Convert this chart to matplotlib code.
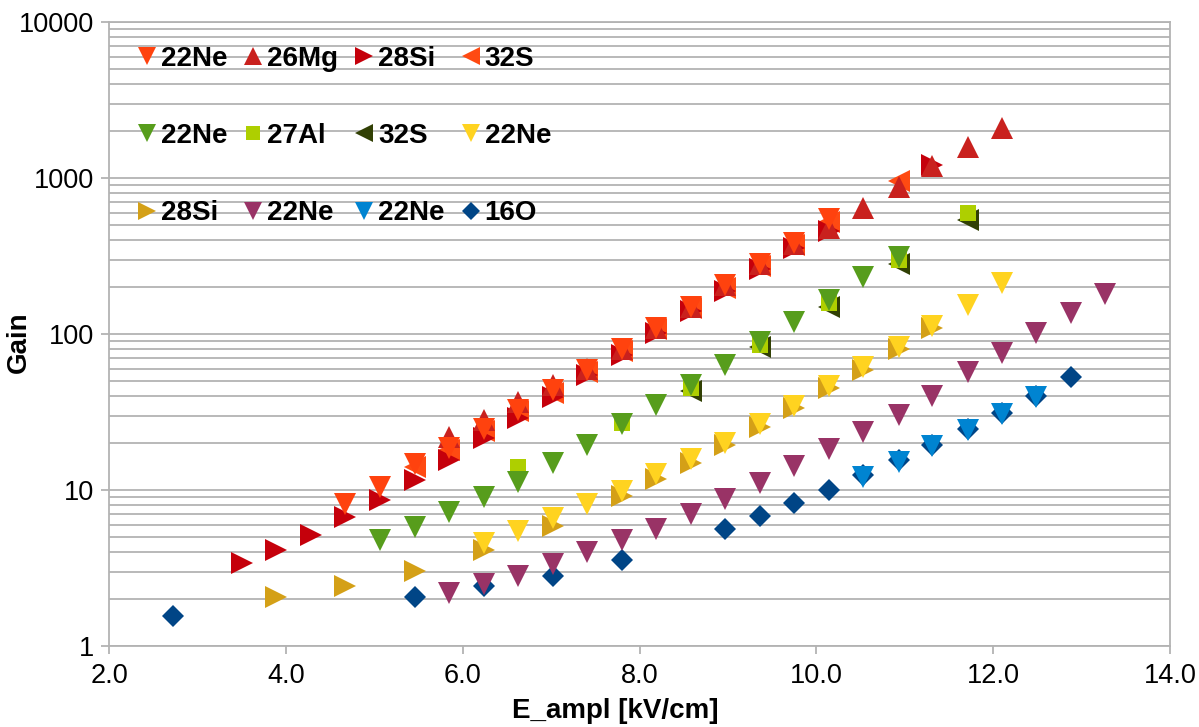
import numpy as np
import matplotlib
matplotlib.use("Agg")
import matplotlib.pyplot as plt
from matplotlib.ticker import LogLocator, NullFormatter

plt.rcParams['font.family'] = ['Liberation Sans', 'DejaVu Sans']

# series: label, marker, colour, x [kV/cm], gain
ne_a_x = [4.67, 5.06, 5.46, 5.85, 6.24, 6.63, 7.02, 7.41, 7.80, 8.19, 8.58, 8.97, 9.36, 9.75, 10.14]
ne_a_y = [8.1, 10.4, 14.6, 18.5, 24.5, 32.5, 43.5, 59, 80, 110, 150, 205, 280, 385, 550]

mg_x = [5.85, 6.24, 6.63, 7.02, 7.41, 7.80, 8.19, 8.58, 8.97, 9.36, 9.75, 10.14, 10.53, 10.93, 11.31, 11.71, 12.10]
mg_y = [22, 28, 36.5, 47, 60, 80, 110, 150, 205, 280, 380, 480, 640, 870, 1200, 1590, 2080]

si_a_x = [3.50, 3.89, 4.28, 4.67, 5.06, 5.46, 5.85, 6.24, 6.63, 7.02, 7.41, 7.80, 8.19, 8.58, 8.97, 9.36, 9.75, 10.14, 11.31]
si_a_y = [3.4, 4.15, 5.15, 6.7, 8.6, 11.6, 15.5, 21.4, 29, 39.5, 54.5, 73, 102, 140, 190, 260, 355, 460, 1210]

s_a_x = [5.46, 5.85, 6.24, 6.63, 7.02, 7.41, 7.80, 8.19, 8.58, 8.97, 9.36, 9.75, 10.14, 10.93]
s_a_y = [14.0, 18, 24, 32, 42, 57, 78, 107, 146, 198, 272, 372, 520, 960]

ne_b_x = [5.06, 5.46, 5.85, 6.24, 6.63, 7.02, 7.41, 7.80, 8.19, 8.58, 8.97, 9.36, 9.75, 10.14, 10.53, 10.93]
ne_b_y = [4.8, 5.8, 7.2, 9.0, 11.3, 14.8, 19.4, 26.5, 35, 47, 63, 89, 120, 165, 233, 313]

al_x = [6.63, 7.80, 8.58, 9.36, 10.14, 10.93, 11.71]
al_y = [14.0, 27, 45, 85, 158, 300, 600]

s_b_x = [8.58, 9.36, 10.14, 10.93, 11.71]
s_b_y = [43, 82, 148, 280, 540]

ne_c_x = [6.24, 6.63, 7.02, 7.41, 7.80, 8.19, 8.58, 8.97, 9.36, 9.75, 10.14, 10.53, 10.93, 11.31, 11.71, 12.10]
ne_c_y = [4.6, 5.5, 6.6, 8.1, 9.8, 12.6, 15.8, 20, 26.5, 34.5, 46.5, 61, 83, 113, 153, 212]

si_b_x = [3.89, 4.67, 5.46, 6.24, 7.02, 7.80, 8.19, 8.58, 8.97, 9.36, 9.75, 10.14, 10.53, 10.93, 11.31]
si_b_y = [2.05, 2.42, 3.03, 4.1, 5.9, 9.2, 11.8, 15, 19.3, 25.5, 33.5, 45, 59, 80, 110]

ne_d_x = [5.85, 6.24, 6.63, 7.02, 7.41, 7.80, 8.19, 8.58, 8.97, 9.36, 9.75, 10.14, 10.53, 10.93,
          11.31, 11.71, 12.10, 12.49, 12.88, 13.27]
ne_d_y = [2.2, 2.5, 2.8, 3.35, 4.0, 4.75, 5.6, 7.0, 8.8, 11.1, 14.3, 18.2, 23.6, 30.3,
          40, 57, 76, 101, 137, 180]

ne_e_x = [10.53, 10.93, 11.31, 11.71, 12.10, 12.49]
ne_e_y = [12.2, 15.2, 19.1, 24.2, 30.7, 39.3]

o_x = [2.72, 5.46, 6.24, 7.02, 7.80, 8.97, 9.36, 9.75, 10.14, 10.53, 10.93, 11.31, 11.71, 12.10, 12.49, 12.88]
o_y = [1.55, 2.05, 2.42, 2.82, 3.55, 5.65, 6.8, 8.2, 10.0, 12.5, 15.5, 19.5, 24.6, 31.2, 40, 53]

series = [
    ("22Ne", "v", "#ff420e", ne_a_x, ne_a_y, 16),
    ("26Mg", "^", "#c9211e", mg_x, mg_y, 16),
    ("28Si", ">", "#c5000b", si_a_x, si_a_y, 16),
    ("32S", "<", "#ff4a12", s_a_x, s_a_y, 16),
    ("22Ne", "v", "#579d1c", ne_b_x, ne_b_y, 16),
    ("27Al", "s", "#aecf00", al_x, al_y, 12),
    ("32S", "<", "#314004", s_b_x, s_b_y, 16),
    ("22Ne", "v", "#ffd320", ne_c_x, ne_c_y, 16),
    ("28Si", ">", "#d4a017", si_b_x, si_b_y, 16),
    ("22Ne", "v", "#993366", ne_d_x, ne_d_y, 16),
    ("22Ne", "v", "#0084d1", ne_e_x, ne_e_y, 16),
    ("16O", "D", "#004586", o_x, o_y, 11.5),
]

fig = plt.figure(figsize=(11.99, 7.27), dpi=100)
ax = fig.add_axes([109 / 1199, 81 / 727, 1061 / 1199, 624 / 727])

handles = []
for i, (lab, mk, col, xs, ys, ms) in enumerate(series):
    h, = ax.plot(xs, ys, linestyle="none", marker=mk, color=col, markersize=ms,
                 markeredgewidth=0, label=lab, zorder=30 - i)
    handles.append(h)

ax.set_yscale("log")
ax.set_xlim(2, 14)
ax.set_ylim(1, 10000)

grid_col = "#b3b3b3"
ax.set_xticks(np.arange(2, 14.1, 2))
ax.set_xticklabels(["%.1f" % v for v in np.arange(2, 14.1, 2)])
ax.set_yticks([1, 10, 100, 1000, 10000])
ax.set_yticklabels(["1", "10", "100", "1000", "10000"])
ax.yaxis.set_minor_locator(LogLocator(base=10, subs=np.arange(2, 10)))
ax.yaxis.set_minor_formatter(NullFormatter())
ax.grid(True, axis="y", which="both", color=grid_col, linewidth=1.3)
ax.set_axisbelow(True)
ax.tick_params(axis="both", which="major", direction="out", length=6, width=1.3,
               color=grid_col, labelsize=19.5, labelcolor="black")
ax.tick_params(axis="y", which="minor", length=0)
ax.tick_params(axis="x", pad=6)
ax.tick_params(axis="y", pad=5)
for sp in ax.spines.values():
    sp.set_color(grid_col)
    sp.set_linewidth(1.3)

ax.set_xlabel("E_ampl [kV/cm]", fontsize=20, fontweight="bold")
ax.xaxis.set_label_coords(0.477, -0.083)
ax.set_ylabel("Gain", fontsize=20, fontweight="bold")
ax.yaxis.set_label_coords(-0.073, 0.487)

# legend is row-major in the picture, matplotlib fills columns first
ncol, nrow = 4, 3
order = [r * ncol + c for c in range(ncol) for r in range(nrow)]
leg = ax.legend([handles[k] for k in order], [series[k][0] for k in order],
                ncol=ncol, loc="upper left", bbox_to_anchor=(29.4 / 1061, 0.962),
                frameon=False, borderpad=0, borderaxespad=0, handlelength=0.6,
                handletextpad=0.2, columnspacing=0.64, labelspacing=1.85,
                markerscale=0.8, prop={"size": 20, "weight": "bold"})
leg.set_zorder(40)

fig.savefig("out.png", dpi=100)
